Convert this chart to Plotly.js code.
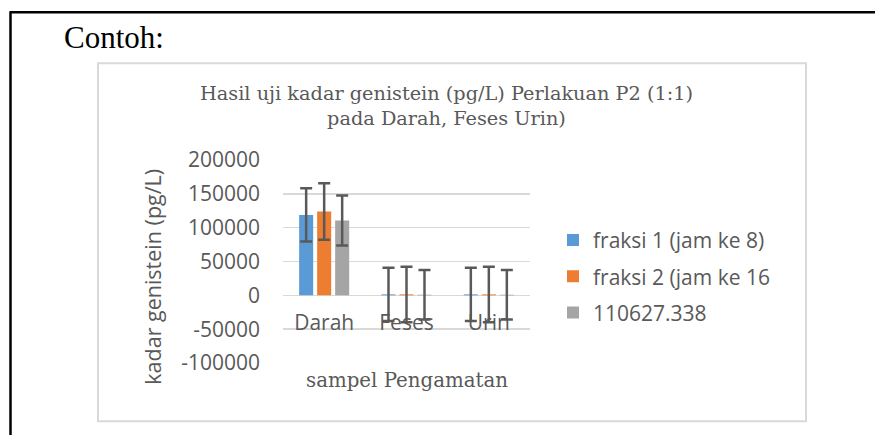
<!DOCTYPE html>
<html>
<head>
<meta charset="utf-8">
<script src="https://cdn.plot.ly/plotly-3.0.1.min.js"></script>
<style>html,body{margin:0;padding:0;background:#fff;}#chart{width:875px;height:435px;}</style>
</head>
<body>
<div id="chart"></div>
<script>
const categories = ['Darah', 'Feses', 'Urin'];
const seriesNames = ['fraksi 1 (jam ke 8)', 'fraksi 2 (jam ke 16', '110627.338'];
const fraksi1 = [118900, 1400, 1400];
const fraksi2 = [124000, 1400, 1400];
const series3 = [110627.338, 900, 900];
const err1 = [39500, 39300, 39300];
const err2 = [41700, 41000, 41000];
const err3 = [37000, 36500, 36500];
const yTicks = [200000, 150000, 100000, 50000, 0, -50000, -100000];
const colors = ['#5b9bd5', '#ed7d31', '#a5a5a5'];

const W = 875, H = 435;
const PL = 283, PR = 530, PT = 160, PB = 363.5;
const px = x => (x - PL) / (PR - PL);
const py = y => (PB - y) / (PB - PT);

const sans = 'Open Sans, DejaVu Sans, sans-serif';
const serif = 'DejaVu Serif, Liberation Serif, serif';
const grey = '#595959';

const vals = [fraksi1, fraksi2, series3];
const errs = [err1, err2, err3];
const traces = vals.map((v, i) => ({
  type: 'bar', x: categories, y: v, name: seriesNames[i],
  marker: {color: colors[i]}, legendgroup: 'g' + i,
  error_y: {type: 'data', array: errs[i], visible: true, color: grey, thickness: 2.5, width: 6}
}));

const layout = {
  width: W, height: H, autosize: false,
  margin: {l: PL, r: W - PR, t: PT, b: H - PB, pad: 0},
  paper_bgcolor: '#fff', plot_bgcolor: 'rgba(0,0,0,0)',
  barmode: 'group', bargap: 0.344, bargroupgap: 0.22,
  showlegend: true,
  legend: {x: px(553), xanchor: 'left', y: py(220), yanchor: 'top',
    font: {family: sans, size: 21, color: grey}, tracegroupgap: 6,
    traceorder: 'grouped', bgcolor: 'rgba(0,0,0,0)'},
  xaxis: {anchor: 'free', position: 1/3, showline: false, showgrid: false, zeroline: false,
    ticks: '', ticklabelstandoff: 13, tickfont: {family: sans, size: 21, color: grey}},
  yaxis: {range: [-100000, 200000], tickvals: yTicks, ticktext: yTicks.map(String),
    showgrid: true, gridcolor: '#d9d9d9', gridwidth: 1.5, zeroline: false, showline: false,
    ticks: '', ticklabelstandoff: 22, tickfont: {family: sans, size: 21, color: grey}},
  shapes: [
    {type: 'line', xref: 'paper', yref: 'paper', x0: px(10), x1: px(875), y0: py(12), y1: py(12), line: {color: '#000', width: 2.5}},
    {type: 'line', xref: 'paper', yref: 'paper', x0: px(10.5), x1: px(10.5), y0: py(11), y1: py(436), line: {color: '#000', width: 2.5}},
    {type: 'rect', xref: 'paper', yref: 'paper', x0: px(98), x1: px(806), y0: py(63), y1: py(422), line: {color: '#d9d9d9', width: 2}, layer: 'below'}
  ],
  annotations: [
    {text: 'Contoh:', xref: 'paper', yref: 'paper', x: px(62), y: py(37), xanchor: 'left', yanchor: 'middle', showarrow: false,
      font: {family: 'Liberation Serif, Times New Roman, serif', size: 31, color: '#000'}},
    {text: 'Hasil uji kadar genistein (pg/L) Perlakuan P2 (1:1)<br>pada Darah, Feses Urin)', xref: 'paper', yref: 'paper',
      x: px(446), y: py(106), xanchor: 'center', yanchor: 'middle', showarrow: false,
      font: {family: serif, size: 19.3, color: grey}},
    {text: 'kadar genistein (pg/L)', xref: 'paper', yref: 'paper', x: px(153), y: py(277), textangle: -90,
      xanchor: 'center', yanchor: 'middle', showarrow: false, font: {family: sans, size: 21.5, color: grey}},
    {text: 'sampel Pengamatan', xref: 'paper', yref: 'paper', x: px(407), y: py(381),
      xanchor: 'center', yanchor: 'middle', showarrow: false, font: {family: serif, size: 19.8, color: grey}}
  ]
};

Plotly.newPlot('chart', traces, layout, {displayModeBar: false, staticPlot: true});
</script>
</body>
</html>
